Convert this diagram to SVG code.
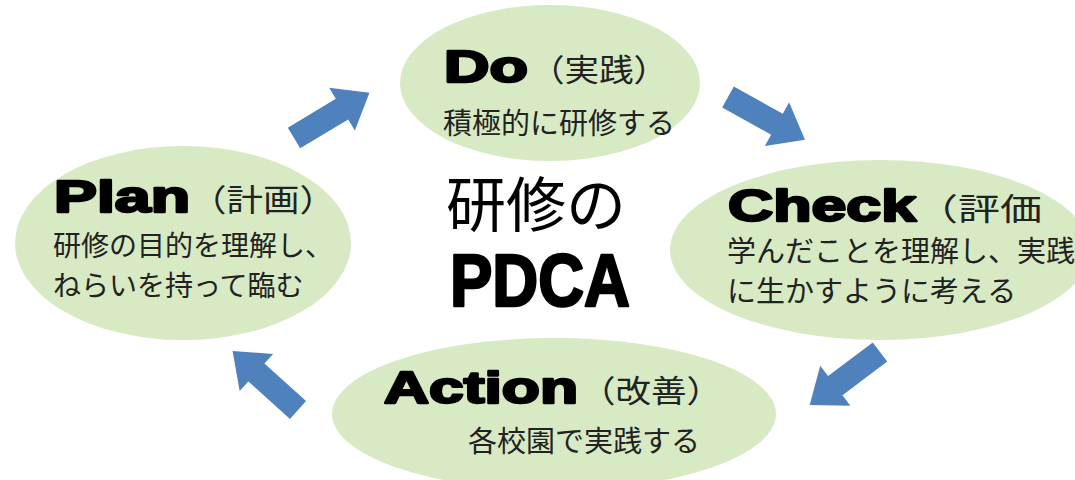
<svg xmlns="http://www.w3.org/2000/svg" width="1075" height="480" viewBox="0 0 1075 480">
<style>
.node{fill:#d7eac3;}
.hd{font-family:"Liberation Sans",Arial,sans-serif;font-weight:900;fill:#000;stroke:#000;stroke-width:2.4;stroke-linejoin:round;}
.jp{font-family:"Noto Sans CJK JP","Noto Sans",sans-serif;fill:#222;}
.pr{font-family:"Noto Sans CJK JP","Noto Sans",sans-serif;fill:#222;font-size:31px;}
.arr{fill:#4f81bd;}
</style>
<rect width="1075" height="480" fill="#fff"/>
<g id="node-do">
<ellipse class="node" cx="550" cy="83" rx="150" ry="78"/>
<text class="hd" x="444" y="82" font-size="44" textLength="84" lengthAdjust="spacingAndGlyphs">Do</text>
<text class="pr" x="530" y="81" textLength="138" lengthAdjust="spacingAndGlyphs">（実践）</text>
<text class="jp" x="443" y="134" font-size="29">積極的に研修する</text>
</g>
<g id="node-check">
<ellipse class="node" cx="880" cy="250" rx="210" ry="90"/>
<text class="hd" x="728" y="221" font-size="44" textLength="188" lengthAdjust="spacingAndGlyphs">Check</text>
<text class="pr" x="916" y="220" textLength="126" lengthAdjust="spacingAndGlyphs">（評価</text>
<text class="jp" x="727" y="262" font-size="29">学んだことを理解し、実践</text>
<text class="jp" x="727" y="302" font-size="29">に生かすように考える</text>
</g>
<g id="node-plan">
<ellipse class="node" cx="183" cy="243" rx="168" ry="97"/>
<text class="hd" x="54" y="212" font-size="44" textLength="136" lengthAdjust="spacingAndGlyphs">Plan</text>
<text class="pr" x="190" y="211" textLength="146" lengthAdjust="spacingAndGlyphs">（計画）</text>
<text class="jp" x="53" y="256" font-size="28">研修の目的を理解し、</text>
<text class="jp" x="53" y="296" font-size="28">ねらいを持って臨む</text>
</g>
<g id="node-action">
<ellipse class="node" cx="554" cy="414" rx="222" ry="76"/>
<text class="hd" x="384" y="403" font-size="44" textLength="194" lengthAdjust="spacingAndGlyphs">Action</text>
<text class="pr" x="580" y="402" textLength="142" lengthAdjust="spacingAndGlyphs">（改善）</text>
<text class="jp" x="468" y="452" font-size="29">各校園で実践する</text>
</g>
<g id="title">
<text x="446" y="227" font-family="Noto Sans CJK JP,Noto Sans,sans-serif" font-size="60" fill="#000">研修の</text>
<text x="450" y="306" font-family="Liberation Sans,Arial,sans-serif" font-weight="bold" font-size="75" textLength="180" lengthAdjust="spacingAndGlyphs" stroke="#000" stroke-width="2.6" stroke-linejoin="round">PDCA</text>
</g>
<g id="connectors">
<polygon class="arr" points="0,-12 56,-12 56,-25 88,0 56,25 56,12 0,12" transform="translate(294,138) rotate(-31)"/>
<polygon class="arr" points="0,-12 56,-12 56,-25 88,0 56,25 56,12 0,12" transform="translate(728,97) rotate(29)"/>
<polygon class="arr" points="0,-12 56,-12 56,-25 88,0 56,25 56,12 0,12" transform="translate(880,352) rotate(143)"/>
<polygon class="arr" points="0,-12 56,-12 56,-25 88,0 56,25 56,12 0,12" transform="translate(298,410) rotate(-138)"/>
</g>
</svg>
